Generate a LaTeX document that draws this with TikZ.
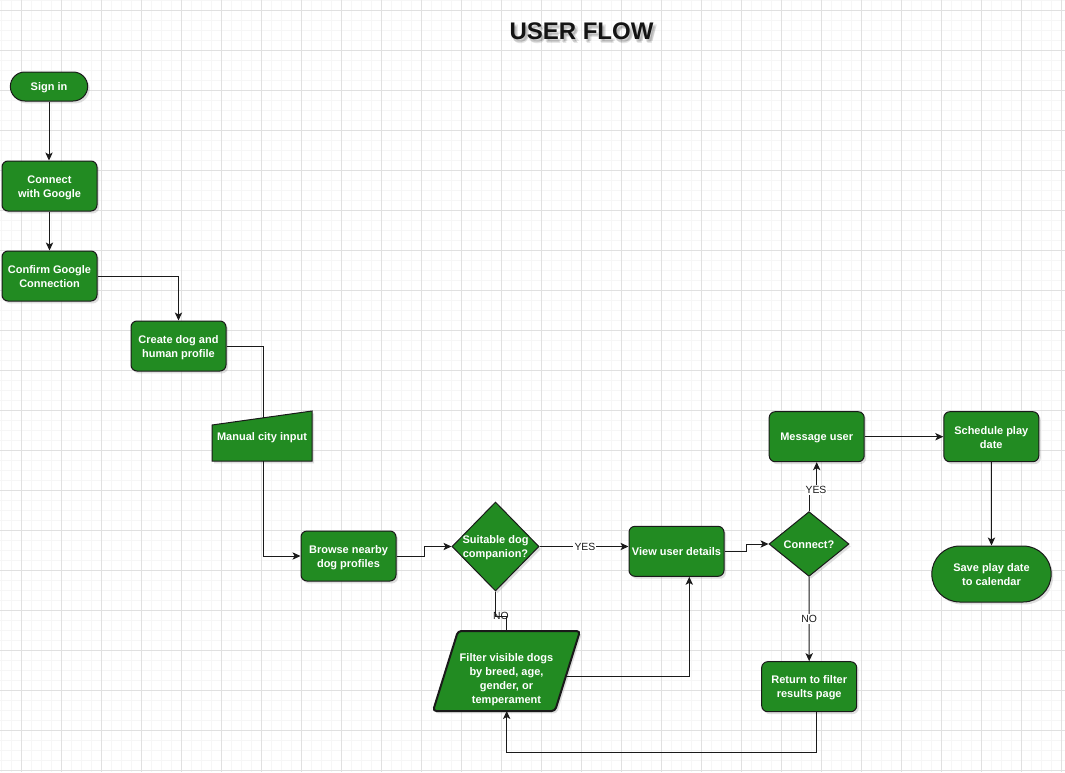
\documentclass[tikz,border=0pt]{standalone}
\usepackage{fontspec}
\setmainfont{Liberation Sans}
\usetikzlibrary{shapes.geometric,shapes.misc,arrows.meta,shadows,calc}

\definecolor{dgreen}{HTML}{228B22}
\definecolor{edge}{HTML}{1A1A1A}
\definecolor{gridmajor}{HTML}{E0E0E0}
\definecolor{gridminor}{HTML}{F6F6F6}

\newcommand\boxfont{\bfseries\fontsize{8.25}{10.5}\selectfont}
\newcommand\tagfont{\fontsize{7.8}{9}\selectfont}
\newcommand\headfont{\bfseries\fontsize{18}{20}\selectfont}
% centred lines of text, lowered a little without changing the box size
\newcommand\tx[2][1.2pt]{\raisebox{-#1}[\height][\depth]{\begin{tabular}{@{}c@{}}#2\end{tabular}}}

\tikzset{
  box/.style={draw=edge, line width=0.75pt, fill=dgreen, text=white,
    font=\boxfont, align=center, inner sep=1pt,
    drop shadow={shadow xshift=1.5pt, shadow yshift=-1.8pt, opacity=0.25}},
  proc/.style={box, rectangle, rounded corners=4.5pt,
    minimum width=71.25pt, minimum height=37.5pt},
  term/.style={box, rounded rectangle},
  decision/.style={box, diamond, inner sep=0pt},
  shapetext/.style={text=white, font=\boxfont, align=center, inner sep=1pt},
  flow/.style={draw=edge, line width=0.75pt},
  arr/.style={flow, -{Stealth[length=6pt, width=5.5pt, inset=1.5pt]}},
  tag/.style={fill=white, text=edge, font=\tagfont, inner sep=0.8pt},
}

\begin{document}
\begin{tikzpicture}[x=0.75pt, y=-0.75pt]
\useasboundingbox (0,0) rectangle (1065,772);
\fill[white] (0,0) rectangle (1065,772);

% background grid: fine lines every 10px, stronger every 40px
\foreach \x in {1,11,...,1061} \draw[gridminor, line width=0.75pt] (\x,0) -- (\x,772);
\foreach \y in {0.7,10.7,...,770.7} \draw[gridminor, line width=0.75pt] (0,\y) -- (1065,\y);
\foreach \x in {21,61,...,1061} \draw[gridmajor, line width=0.75pt] (\x,0) -- (\x,772);
\foreach \y in {10.7,50.7,...,770.7} \draw[gridmajor, line width=0.75pt] (0,\y) -- (1065,\y);

% heading with a soft shadow
\node[font=\headfont, text=black, opacity=0.10] (headshadowA) at (584,35) {USER FLOW};
\node[font=\headfont, text=black, opacity=0.10] (headshadowB) at (583,34) {USER FLOW};
\node[font=\headfont, text=black, opacity=0.10] (headshadowC) at (585,33.5) {USER FLOW};
\node[font=\headfont, text=black!92] (title) at (581.5,31.5) {USER FLOW};

% process steps
\node[term, minimum width=60pt, minimum height=21.75pt] (signin) at (49,86.5) {\tx[0.8pt]{Sign in}};
\node[proc] (google) at (49.5,186) {\tx{Connect\\with Google}};
\node[proc] (confirm) at (49.5,276) {\tx[1.6pt]{Confirm Google\\Connection}};
\node[proc] (create) at (178.5,346) {\tx[1.6pt]{Create dog and\\human profile}};

% manual input shape (sloped top)
\coordinate (mc) at (262,436);
\filldraw[draw=edge, line width=0.75pt, fill=dgreen,
  drop shadow={shadow xshift=1.5pt, shadow yshift=-1.8pt, opacity=0.25}]
  ($(mc)+(-50,25)$) -- ($(mc)+(-50,-11)$) -- ($(mc)+(50,-25)$) -- ($(mc)+(50,25)$) -- cycle;
\node[shapetext, minimum width=75pt, minimum height=37.5pt] (manual) at (mc) {\tx[1.3pt]{Manual city input}};

\node[proc] (browse) at (348.5,556) {\tx[1.6pt]{Browse nearby\\dog profiles}};
\node[decision, inner ysep=-2.6pt, minimum width=65.25pt, minimum height=66.75pt] (suitable) at (495.5,546.5) {\tx{Suitable dog\\companion?}};
\node[proc] (view) at (676.5,551.3) {\tx{View user details}};
\node[decision, minimum width=60pt, minimum height=48pt] (connect) at (809,544) {\tx[1.5pt]{Connect?}};
\node[proc] (message) at (816.7,436.7) {\tx[0.9pt]{Message user}};
\node[proc] (schedule) at (991.3,436.7) {\tx{Schedule play\\date}};
\node[term, minimum width=91.5pt, minimum height=42pt] (save) at (991.5,574) {\tx[1.3pt]{Save play date\\to calendar}};

% filter step (parallelogram)
\coordinate (fc) at (506.5,671);
\filldraw[draw=edge, line width=1.5pt, fill=dgreen, rounded corners=2.5pt,
  drop shadow={shadow xshift=1.5pt, shadow yshift=-1.8pt, opacity=0.25}]
  ($(fc)+(-48.5,-40)$) -- ($(fc)+(73.5,-40)$) -- ($(fc)+(48.5,40)$) -- ($(fc)+(-73.5,40)$) -- cycle;
\node[shapetext] (filter) at (fc) {\tx[6.5pt]{Filter visible dogs\\by breed, age,\\gender, or\\temperament}};

\node[proc] (return) at (809.2,686.7) {\tx[0.5pt]{Return to filter\\results page}};

% connector end points on the slanted / offset edges
\coordinate (mtop) at (263,417.8);
\coordinate (ftop) at (506.7,631);
\coordinate (fright) at (566,676.5);
\coordinate (fbottom) at (506.7,711);

% connectors
\draw[arr] (signin.south) -- (signin.south |- google.north);
\draw[arr] (google.south) -- (confirm.north);
\draw[arr] (confirm.east) -| (create.north);
\draw[flow] (create.east) -| (mtop);
\draw[arr] (mtop |- manual.south) |- (browse.west);
\draw[arr] (browse.east) -- ++(28,0) |- (suitable.west);
\draw[arr] (suitable.east) -- (suitable.east -| view.west)
  node[tag, pos=0.51] (yesone) {YES};
\draw[flow] (suitable.south) -- ++(0,25) -| (ftop);
\node[text=edge, font=\tagfont, inner sep=0pt] (noone) at (501,616) {NO};
\draw[arr] (fright) -| ($(view.south)+(12.8,0)$);
\draw[arr] (view.east) -- ++(22,0) |- (connect.west);
\draw[arr] (connect.north) |- ($(message.south)+(0,29)$) -- (message.south);
\node[tag] (yestwo) at (816,490) {YES};
\draw[arr] (connect.south) -- (return.north) node[tag, midway] (notwo) {NO};
\draw[arr] ($(return.south)+(7.5,0)$) -- ++(0,40) -| (fbottom);
\draw[arr] (message.east) -- (schedule.west);
\draw[arr] (schedule.south) -- (save.north);
\end{tikzpicture}
\end{document}
